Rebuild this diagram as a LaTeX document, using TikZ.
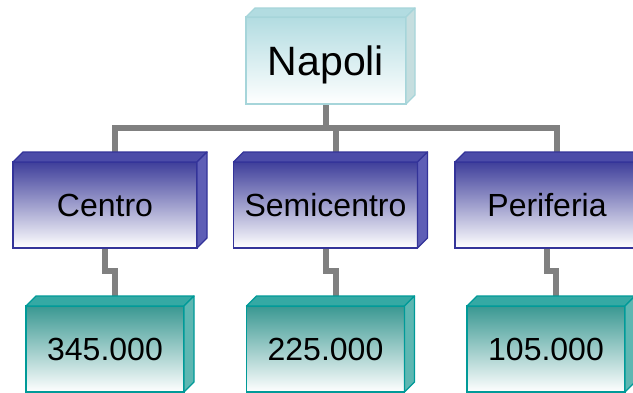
\documentclass[tikz,border=0pt]{standalone}
\usepackage{fontspec}
\setmainfont{Liberation Sans}
\usetikzlibrary{calc}
\definecolor{napEdge}{HTML}{A6D5DA}
\definecolor{napTop}{HTML}{B2DCE1}
\definecolor{napSide}{HTML}{C6DEDF}
\definecolor{bluEdge}{HTML}{333399}
\definecolor{bluGrad}{HTML}{3F3F9B}
\definecolor{bluTop}{HTML}{4C4CA8}
\definecolor{bluSide}{HTML}{5E5EB6}
\definecolor{tealEdge}{HTML}{009A98}
\definecolor{tealGrad}{HTML}{3A9892}
\definecolor{tealTop}{HTML}{35A9A4}
\definecolor{tealSide}{HTML}{5DB7B2}
\definecolor{connGray}{HTML}{808080}
\newcommand\boxdepth[5]{%
  \filldraw[draw=#3, fill=#4, line width=1.3pt, line join=round]
    (#1.north west) -- ++(#2,-#2) -- ([shift={(#2,-#2)}]#1.north east) -- (#1.north east) -- cycle;
  \filldraw[draw=#3, fill=#5, line width=1.3pt, line join=round]
    (#1.north east) -- ++(#2,-#2) -- ([shift={(#2,-#2)}]#1.south east) -- (#1.south east) -- cycle;
}
\tikzset{
  facebox/.style={rectangle, outer sep=0pt, inner sep=0pt, text depth=0pt, line width=1.3pt, text=black},
  rootbox/.style={facebox, draw=napEdge, top color=napTop, bottom color=white,
    minimum width=160pt, minimum height=87pt, font=\fontsize{41}{45}\selectfont},
  midbox/.style={facebox, draw=bluEdge, top color=bluGrad, bottom color=white,
    minimum width=184pt, minimum height=86pt, font=\fontsize{32}{36}\selectfont},
  leafbox/.style={facebox, draw=tealEdge, top color=tealGrad, bottom color=white,
    minimum width=158pt, minimum height=86pt, font=\fontsize{32}{36}\selectfont},
  conn/.style={draw=connGray, line width=6pt, line join=miter, line cap=butt}
}
\begin{document}
\begin{tikzpicture}[x=1pt,y=-1pt]
\useasboundingbox (0,0) rectangle (633,392);
\fill[white] (0,0) rectangle (633,392);
% nodes
\node[rootbox] (napoli) at (326,60.5) {Napoli};
\node[midbox] (centro) at (105,205) {Centro};
\node[midbox] (semi) at (325.5,205) {Semicentro};
\node[midbox] (peri) at (547,205) {Periferia};
\node[leafbox] (n345) at (105,349) {345.000};
\node[leafbox] (n225) at (325.5,349) {225.000};
\node[leafbox] (n105) at (546,349) {105.000};
% attachment points (centre of the back edge of each top face)
\coordinate (cT) at ([shift={(10,-10)}]centro.north);
\coordinate (sT) at ([shift={(10,-10)}]semi.north);
\coordinate (pT) at ([shift={(10,-10)}]peri.north);
\coordinate (aT) at ([shift={(10,-10)}]n345.north);
\coordinate (bT) at ([shift={(10,-10)}]n225.north);
\coordinate (dT) at ([shift={(10,-10)}]n105.north);
% connectors
\draw[conn] (cT) -- ++(0,-24) -| (pT);
\draw[conn] (sT) -- ++(0,-24);
\draw[conn] (napoli.south) -- ++(0,24);
\draw[conn] (centro.south) -- ++(0,23) -| (aT);
\draw[conn] (semi.south) -- ++(0,23) -| (bT);
\draw[conn] (peri.south) -- ++(0,23) -| (dT);
% redraw nodes over connectors
\node[rootbox] at (napoli) {Napoli};
\boxdepth{napoli}{9}{napEdge}{napTop}{napSide}
\node[midbox] at (centro) {Centro};
\boxdepth{centro}{10}{bluEdge}{bluTop}{bluSide}
\node[midbox] at (semi) {Semicentro};
\boxdepth{semi}{10}{bluEdge}{bluTop}{bluSide}
\node[midbox] at (peri) {Periferia};
\boxdepth{peri}{10}{bluEdge}{bluTop}{bluSide}
\node[leafbox] at (n345) {345.000};
\boxdepth{n345}{10}{tealEdge}{tealTop}{tealSide}
\node[leafbox] at (n225) {225.000};
\boxdepth{n225}{10}{tealEdge}{tealTop}{tealSide}
\node[leafbox] at (n105) {105.000};
\boxdepth{n105}{10}{tealEdge}{tealTop}{tealSide}
\end{tikzpicture}
\end{document}
